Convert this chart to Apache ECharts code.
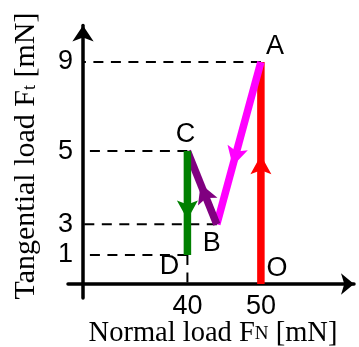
<!DOCTYPE html>
<html>
<head>
<meta charset="utf-8">
<script src="https://cdn.jsdelivr.net/npm/echarts@6/dist/echarts.min.js"></script>
<style>
  html, body { margin: 0; padding: 0; background: #ffffff; }
  #chart { width: 359px; height: 347px; }
</style>
</head>
<body>
<div id="chart"></div>
<script>
// Load path O -> A -> B -> C -> D (normal load, tangential load in mN)
const pointNames = ['O', 'A', 'B', 'C', 'D'];
const normalLoad = [50, 50, 44, 40, 40];
const tangentialLoad = [0, 9, 3, 5, 1];

// One colour per leg of the path
const legColors = ['#ff0000', '#ff00ff', '#800080', '#008000'];

// Labelled ticks
const normalTicks = [40, 50];
const tangentialTicks = [1, 3, 5, 9];

// Points whose level is traced back to the axes with dashed guides
const horizontalGuides = ['A', 'C', 'B', 'D'];
const verticalGuides = ['D'];

// ---- drawing settings ----
// The tangential axis is schematic: each labelled level sits at its own height.
const levelValues = [0, 1, 3, 5, 9];
const levelHeights = [0, 1.18, 2.42, 5.39, 9.0];
function toHeight(v) {
  for (let i = 1; i < levelValues.length; i++) {
    if (v <= levelValues[i]) {
      const f = (v - levelValues[i - 1]) / (levelValues[i] - levelValues[i - 1]);
      return levelHeights[i - 1] + f * (levelHeights[i] - levelHeights[i - 1]);
    }
  }
  return levelHeights[levelHeights.length - 1];
}
function fromHeight(h) {
  let best = 0, bestD = Infinity;
  levelHeights.forEach((lh, i) => { const d = Math.abs(lh - h); if (d < bestD) { bestD = d; best = i; } });
  return levelValues[best];
}

const tangentialAxisAt = 25.8;           // normal load where the tangential axis stands
const arrowAt = [0.58, 0.64, 0.55, 0.66]; // arrowhead tip position along each leg
const labelOffsets = { O: [16, -15], A: [14, -15], B: [-5, 19], C: [-2, -17], D: [-18, 12] };

const idx = {};
pointNames.forEach((n, i) => { idx[n] = i; });

const legs = [];
for (let i = 0; i < pointNames.length - 1; i++) {
  legs.push([normalLoad[i], toHeight(tangentialLoad[i]), normalLoad[i + 1], toHeight(tangentialLoad[i + 1]), i]);
}

const guideData = [];
horizontalGuides.forEach(n => {
  const i = idx[n];
  guideData.push([normalLoad[i], toHeight(tangentialLoad[i]), tangentialAxisAt, toHeight(tangentialLoad[i])]);
});
verticalGuides.forEach(n => {
  const i = idx[n];
  guideData.push([normalLoad[i], toHeight(tangentialLoad[i]), normalLoad[i], toHeight(0)]);
});

const pointData = pointNames.map((n, i) => ({
  name: n,
  value: [normalLoad[i], toHeight(tangentialLoad[i])],
  label: { offset: labelOffsets[n] }
}));

function renderLeg(params, api) {
  const p0 = api.coord([api.value(0), api.value(1)]);
  const p1 = api.coord([api.value(2), api.value(3)]);
  const k = api.value(4);
  const color = legColors[k];
  const dx = p1[0] - p0[0], dy = p1[1] - p0[1];
  const len = Math.hypot(dx, dy);
  const ux = dx / len, uy = dy / len, nx = -uy, ny = ux;
  const t = arrowAt[k];
  const tip = [p0[0] + dx * t, p0[1] + dy * t];
  const L = 19, W = 10.5, notch = 4;
  const base = [tip[0] - ux * L, tip[1] - uy * L];
  const head = [
    tip,
    [base[0] + nx * W, base[1] + ny * W],
    [base[0] + ux * notch, base[1] + uy * notch],
    [base[0] - nx * W, base[1] - ny * W]
  ];
  return {
    type: 'group',
    children: [
      { type: 'line', shape: { x1: p0[0], y1: p0[1], x2: p1[0], y2: p1[1] },
        style: { stroke: color, lineWidth: 7.5, lineCap: 'butt' } },
      { type: 'polygon', shape: { points: head }, style: { fill: color } }
    ]
  };
}

function renderGuide(params, api) {
  const p0 = api.coord([api.value(0), api.value(1)]);
  const p1 = api.coord([api.value(2), api.value(3)]);
  return {
    type: 'line',
    shape: { x1: p0[0], y1: p0[1], x2: p1[0], y2: p1[1] },
    style: { stroke: '#000', lineWidth: 2, lineDash: [10, 7.5] }
  };
}

const serif = 'Liberation Serif, Times New Roman, serif';
const sans = 'Liberation Sans, Arial, sans-serif';

const chart = echarts.init(document.getElementById('chart'), null, { renderer: 'canvas' });
chart.setOption({
  animation: false,
  backgroundColor: '#ffffff',
  grid: { left: 68, right: 5, top: 25.5, bottom: 49, containLabel: false },
  xAxis: {
    type: 'value',
    min: 23.75,
    max: 62.67,
    splitLine: { show: false },
    axisTick: { show: false },
    axisLine: { onZero: true, symbol: ['none', 'arrow'], symbolSize: [16, 13],
      lineStyle: { color: '#000', width: 3.5 } },
    axisLabel: { customValues: normalTicks, margin: -5, color: '#000',
      fontFamily: sans, fontSize: 27 }
  },
  yAxis: {
    type: 'value',
    min: -0.567,
    max: 10.48,
    offset: -15,
    splitLine: { show: false },
    axisTick: { show: false },
    axisLine: { onZero: false, symbol: ['none', 'arrow'], symbolSize: [16, 16],
      lineStyle: { color: '#000', width: 3.5 } },
    axisLabel: { customValues: tangentialTicks.map(toHeight), margin: 10, color: '#000',
      fontFamily: sans, fontSize: 27,
      formatter: v => String(fromHeight(v)) }
  },
  graphic: [
    {
      type: 'text', x: 213, y: 333,
      style: {
        text: '{m|Normal load F}{s|N}{m| [mN]}',
        align: 'center', verticalAlign: 'middle',
        rich: {
          m: { fontFamily: serif, fontSize: 28.5, fill: '#000', lineHeight: 30, verticalAlign: 'bottom' },
          s: { fontFamily: serif, fontSize: 19, fill: '#000', lineHeight: 26, verticalAlign: 'bottom', padding: [0, 0, 4, 0] }
        }
      }
    },
    {
      type: 'text', x: 25, y: 156, rotation: Math.PI / 2,
      style: {
        text: '{m|Tangential load F}{s|t}{m| [mN]}',
        align: 'center', verticalAlign: 'middle',
        rich: {
          m: { fontFamily: serif, fontSize: 30, fill: '#000', lineHeight: 32, verticalAlign: 'bottom' },
          s: { fontFamily: serif, fontSize: 18, fill: '#000', lineHeight: 24, verticalAlign: 'bottom', padding: [0, 0, 2, 0] }
        }
      }
    }
  ],
  series: [
    { type: 'custom', renderItem: renderGuide, data: guideData, z: 2, silent: true,
      encode: { x: [0, 2], y: [1, 3] } },
    { type: 'custom', renderItem: renderLeg, data: legs, z: 3, silent: true,
      encode: { x: [0, 2], y: [1, 3] } },
    { type: 'scatter', data: pointData, symbolSize: 1, itemStyle: { color: 'rgba(0,0,0,0)' }, z: 4, silent: true,
      label: { show: true, position: 'inside', formatter: '{b}', color: '#000', opacity: 1,
        textBorderWidth: 0, textBorderColor: 'transparent',
        fontFamily: sans, fontSize: 27 } }
  ]
});
</script>
</body>
</html>
